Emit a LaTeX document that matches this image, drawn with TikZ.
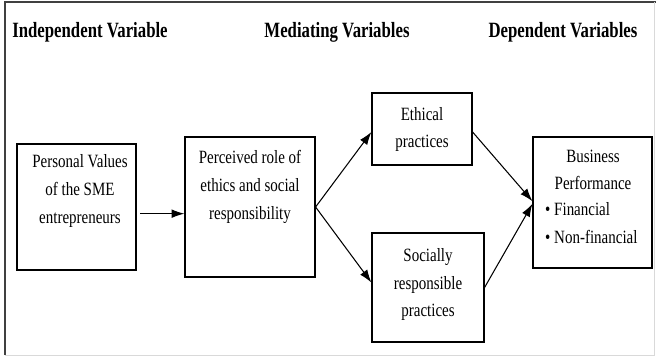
\documentclass[tikz,border=0pt]{standalone}
\usepackage{fontspec}
\setmainfont{Liberation Serif}
\usetikzlibrary{arrows.meta}

% 縦に伸ばした文字
\newcommand{\tallbox}[2][c]{\scalebox{1}[1.25]{\begin{tabular}{@{}#1@{}}#2\end{tabular}}}

\begin{document}
\begin{tikzpicture}[x=0.03cm, y=-0.03cm,
	box/.style={draw, line width=1pt},
	txt/.style={inner sep=0pt, font=\fontsize{12.8}{19}\selectfont},
	head/.style={inner sep=0pt, font=\fontsize{14.3}{16}\selectfont\bfseries},
	arr/.style={line width=0.9pt, -{Latex[length=11pt,width=7.5pt]}}]
				\useasboundingbox (0,0) rectangle (656,357);

				% 枠
				\draw[line width=1.2pt, black!75] (5,355) -- (5,2) -- (656,2);
				\draw[line width=0.6pt, black!15] (5,355) -- (654,355) -- (654,2);

				% 見出し
				\node[head] (h1) at (90,32) {\scalebox{1}[1.3]{Independent Variable}};
				\node[head] (h2) at (337,32) {\scalebox{1}[1.3]{Mediating Variables}};
				\node[head] (h3) at (563,32) {\scalebox{1}[1.3]{Dependent Variables}};

				% 箱
				\node[box, minimum width=3.57cm, minimum height=3.78cm] (pv) at (76.5,207) {};
				\node[box, minimum width=3.9cm, minimum height=4.2cm] (role) at (250,207) {};
				\node[box, minimum width=3.0cm, minimum height=2.16cm] (eth) at (422,129) {};
				\node[box, minimum width=3.36cm, minimum height=3.27cm] (soc) at (428,287.5) {};
				\node[box, minimum width=3.57cm, minimum height=3.93cm] (bp) at (592.5,202.5) {};

				% 線を引く
				\draw[arr] ([xshift=3pt, yshift=-0.2cm]pv.east) -- ([yshift=-0.2cm]role.west);
				\draw[arr] (role.east) -- ([yshift=-0.09cm]eth.west);
				\draw[arr] (role.east) -- ([yshift=0.15cm]soc.west);
				\draw[arr] ([yshift=-0.09cm]eth.east) -- ([yshift=0.04cm]bp.west);
				\draw[arr] (soc.east) -- ([yshift=-0.04cm]bp.west);

				% 文字を入れる
				\node[txt] (pvt) at (80,190) {\tallbox{Personal Values\\of the SME\\entrepreneurs}};
				\node[txt] (rolet) at (250,186) {\tallbox{Perceived role of\\ethics and social\\responsibility}};
				\node[txt] (etht) at (422,128.5) {\tallbox{Ethical\\practices}};
				\node[txt] (soct) at (428,283.5) {\tallbox{Socially\\responsible\\practices}};
				\node[txt] (bpt) at (593,170.5) {\tallbox{Business\\Performance}};
				\node[txt, anchor=west] (bpl) at (545,224) {\tallbox[l]{\textbullet\ Financial\\\textbullet\ Non-financial}};

			\end{tikzpicture}
\end{document}
